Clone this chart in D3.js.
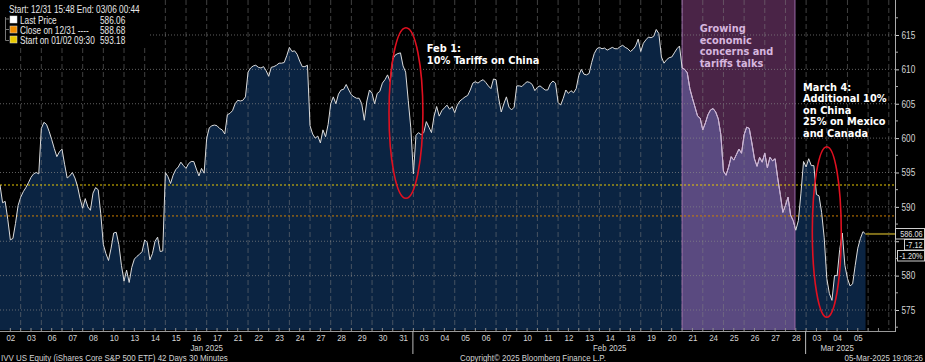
<!DOCTYPE html>
<html>
<head>
<meta charset="utf-8">
<script src="https://cdn.jsdelivr.net/npm/d3@7"></script>
<style>
    body { margin: 0; background: #000; }
    svg { display: block; font-family: "Liberation Sans", Arial, sans-serif; }
</style>
</head>
<body>
<div class="container"></div>
<script>
const WIDTH = 925;
const HEIGHT = 362;
const PLOT_RIGHT = 895;
const PLOT_BOTTOM = 330;
const SX = 0.81; // horizontal squeeze, stands in for a narrow terminal font
const FS = 9.8;

// trading days shown on the axis
const dayLabels = ['02', '03', '06', '07', '08', '10', '13', '14', '15', '16', '17', '21', '22', '23', '24', '27', '28', '29', '30', '31',
    '03', '04', '05', '06', '07', '10', '11', '12', '13', '14', '18', '19', '20', '21', '24', '25', '26', '27', '28',
    '03', '04', '05'];
const monthNames = ['Jan 2025', 'Feb 2025', 'Mar 2025'];
const monthStarts = [0, 20, 39];

// intraday prices, evenly spaced within each trading day
const prices = [
    [593.18, 590.6, 590.8, 588.2, 585.2, 585.4, 587.6, 590.2],
    [591.4, 592.2, 592.8, 593.5, 594.3, 594.8, 595.0, 594.8],
    [601.4, 602.3, 602.0, 601.0, 599.8, 598.5, 597.3, 598.0],
    [598.4, 596.2, 594.2, 594.5, 595.0, 594.2, 593.0, 591.2],
    [589.8, 591.2, 590.0, 589.5, 592.0, 592.8, 592.5, 589.0],
    [584.5, 583.2, 582.2, 584.0, 586.2, 586.3, 584.5, 581.5],
    [579.2, 580.8, 579.0, 581.2, 582.4, 582.8, 583.1, 583.5],
    [585.2, 584.8, 582.3, 583.2, 585.0, 585.6, 583.5, 583.6],
    [595.0, 594.4, 593.4, 594.6, 595.4, 595.8, 596.5, 596.0],
    [595.6, 596.3, 596.6, 596.6, 595.5, 594.5, 595.6, 594.9],
    [600.0, 601.5, 601.8, 601.9, 601.8, 601.4, 601.2, 600.6],
    [603.4, 603.6, 604.0, 605.0, 605.5, 605.4, 605.5, 606.0],
    [609.6, 610.2, 610.5, 610.6, 610.3, 610.2, 610.4, 609.8],
    [609.0, 610.3, 610.4, 610.6, 610.9, 610.9, 611.0, 612.0],
    [613.2, 612.6, 612.7, 612.2, 611.2, 610.4, 610.4, 610.6],
    [601.8, 600.6, 600.0, 600.3, 599.3, 601.2, 600.2, 602.0],
    [605.0, 606.0, 605.0, 606.4, 607.0, 607.1, 607.8, 607.0],
    [606.3, 606.0, 605.8, 605.8, 605.0, 602.6, 605.4, 607.0],
    [606.5, 605.0, 606.5, 606.8, 608.0, 608.5, 609.2, 608.2],
    [611.5, 612.1, 612.3, 612.4, 610.5, 609.6, 605.5, 601.5],
    [594.8, 600.4, 600.8, 600.5, 600.8, 602.4, 601.6, 600.8],
    [603.2, 604.6, 603.2, 604.0, 604.4, 604.8, 604.2, 604.6],
    [603.7, 604.8, 605.4, 605.7, 606.0, 606.2, 607.0, 608.0],
    [608.2, 608.0, 608.3, 608.5, 608.1, 607.6, 607.2, 608.6],
    [608.5, 605.8, 603.8, 605.0, 606.0, 604.5, 604.1, 604.5],
    [607.6, 607.6, 607.5, 607.9, 608.2, 608.1, 607.8, 606.9],
    [607.4, 607.6, 607.3, 607.0, 607.0, 607.9, 608.3, 608.0],
    [605.2, 604.8, 605.8, 607.0, 606.5, 606.9, 606.6, 607.2],
    [609.1, 610.0, 609.3, 609.2, 609.4, 611.0, 612.3, 613.0],
    [613.2, 613.0, 613.1, 612.8, 613.0, 613.2, 613.0, 613.0],
    [613.3, 613.5, 613.2, 613.0, 612.6, 612.9, 613.4, 614.4],
    [612.6, 613.8, 614.3, 614.7, 614.6, 614.8, 615.8, 615.2],
    [611.8, 610.9, 611.4, 611.7, 611.8, 612.4, 613.0, 613.4],
    [610.2, 610.0, 609.5, 607.2, 605.8, 604.5, 603.2, 602.9],
    [601.2, 602.2, 603.4, 604.1, 604.3, 603.8, 602.8, 600.5],
    [595.2, 594.6, 595.8, 597.3, 596.8, 597.6, 598.4, 597.8],
    [600.5, 601.6, 601.4, 599.3, 597.0, 595.9, 597.2, 596.5],
    [597.8, 595.7, 597.2, 596.7, 597.0, 594.2, 591.8, 589.2],
    [590.2, 591.4, 588.8, 588.0, 586.6, 588.0, 592.0, 596.6],
    [595.8, 597.0, 596.0, 596.0, 591.8, 591.6, 589.2, 585.5],
    [579.6, 577.4, 576.4, 580.0, 580.0, 583.8, 586.2, 581.5],
    [579.6, 578.5, 578.8, 581.5, 584.0, 585.4, 586.4, 586.06]
];

const yTicks = [575, 580, 585, 590, 595, 600, 605, 610, 615];
const lastPrice = 586.06;
const prevClose = 588.68;
const startPrice = 593.18;
const netChange = '-7.12';
const pctChange = '-1.20%';
const bandStart = 33;     // Feb 21 open
const bandEnd = 38.46;    // mid-session Feb 28

var svg = d3.select('.container').append('svg')
    .attr('width', WIDTH)
    .attr('height', HEIGHT);

var narrow = function (parent, x0, y0, s, anchor, size) {
    return parent.append('text')
        .attr('transform', 'translate(' + x0 + ',' + y0 + ') scale(' + SX + ',1)')
        .attr('text-anchor', anchor || 'start')
        .attr('font-size', size || FS)
        .attr('fill', '#d4d4d4')
        .text(s);
};

var points = [];
prices.forEach(function (vals, d) {
    vals.forEach(function (v, k) {
        points.push({ t: d + k / vals.length, v: v });
    });
});

var x = d3.scaleLinear().domain([0, dayLabels.length + 1.3]).range([0, PLOT_RIGHT]);
var y = d3.scaleLinear().domain([572.09, 620.09]).range([PLOT_BOTTOM, 0]);

var areaPath = d3.area().x(d => x(d.t)).y0(PLOT_BOTTOM).y1(d => y(d.v))(points);
var linePath = d3.line().x(d => x(d.t)).y(d => y(d.v))(points);

var defs = svg.append('defs');
defs.append('clipPath').attr('id', 'under').append('path').attr('d', areaPath);
defs.append('clipPath').attr('id', 'band').append('rect')
    .attr('x', x(bandStart)).attr('y', 0)
    .attr('width', x(bandEnd) - x(bandStart)).attr('height', PLOT_BOTTOM);

// shaded period, above the price
svg.append('rect')
    .attr('x', x(bandStart)).attr('y', 0)
    .attr('width', x(bandEnd) - x(bandStart)).attr('height', PLOT_BOTTOM)
    .attr('fill', '#4a2447');

// price area
svg.append('path')
    .attr('d', areaPath)
    .attr('fill', '#0b2442');

// shaded period, under the price
svg.append('rect')
    .attr('clip-path', 'url(#under)')
    .attr('x', x(bandStart)).attr('y', 0)
    .attr('width', x(bandEnd) - x(bandStart)).attr('height', PLOT_BOTTOM)
    .attr('fill', '#5a4a80');

// grid
svg.append('g').selectAll('line')
    .data(d3.range(1, dayLabels.length + 2))
    .join('line')
    .attr('x1', d => x(d)).attr('x2', d => x(d))
    .attr('y1', 0).attr('y2', PLOT_BOTTOM)
    .attr('stroke', '#808080').attr('stroke-opacity', 0.5)
    .attr('stroke-dasharray', '5,3');

svg.append('g').selectAll('line')
    .data(yTicks)
    .join('line')
    .attr('x1', 0).attr('x2', PLOT_RIGHT)
    .attr('y1', d => y(d)).attr('y2', d => y(d))
    .attr('stroke', '#888').attr('stroke-opacity', 0.7)
    .attr('stroke-dasharray', '1,2');

// band edges
svg.append('g').selectAll('line')
    .data([bandStart, bandEnd])
    .join('line')
    .attr('x1', d => x(d)).attr('x2', d => x(d))
    .attr('y1', 0).attr('y2', PLOT_BOTTOM)
    .attr('stroke', '#9a6aa8');

// reference levels
svg.append('line')
    .attr('x1', 0).attr('x2', PLOT_RIGHT)
    .attr('y1', y(startPrice)).attr('y2', y(startPrice))
    .attr('stroke', '#e8c800').attr('stroke-dasharray', '2,2');
svg.append('line')
    .attr('x1', 0).attr('x2', PLOT_RIGHT)
    .attr('y1', y(prevClose)).attr('y2', y(prevClose))
    .attr('stroke', '#d08000').attr('stroke-dasharray', '2,2');

// price line
svg.append('path')
    .attr('d', linePath)
    .attr('fill', 'none')
    .attr('stroke', '#dcdcdc')
    .attr('stroke-width', 1);
svg.append('path')
    .attr('d', linePath)
    .attr('clip-path', 'url(#band)')
    .attr('fill', 'none')
    .attr('stroke', '#cdb0d6')
    .attr('stroke-width', 1);

var last = points[points.length - 1];
svg.append('line')
    .attr('x1', x(last.t)).attr('x2', PLOT_RIGHT)
    .attr('y1', y(lastPrice)).attr('y2', y(lastPrice))
    .attr('stroke', '#7e6e1a').attr('stroke-width', 2);

// annotations
var note = svg.append('g')
    .attr('font-family', '"DejaVu Sans", Verdana, sans-serif')
    .attr('font-weight', 'bold')
    .attr('font-size', 9.8);

var addNote = function (t, v, lines, color) {
    var txt = note.append('text').attr('x', x(t)).attr('y', y(v)).attr('fill', color);
    lines.forEach(function (s, i) {
        txt.append('tspan').attr('x', x(t)).attr('dy', i ? 11.6 : 0).text(s);
    });
};
addNote(20.65, 612.5, ['Feb 1:', '10% Tariffs on China'], '#ffffff');
addNote(33.85, 615.4, ['Growing', 'economic', 'concerns and', 'tariffs talks'], '#d6b6de');
addNote(38.85, 606.9, ['March 4:', 'Additional 10%', 'on China', '25% on Mexico', 'and Canada'], '#ffffff');

svg.append('ellipse')
    .attr('cx', x(19.64)).attr('cy', y(603.65))
    .attr('rx', x(0.82)).attr('ry', y(603.65 - 12.4) - y(603.65))
    .attr('fill', 'none').attr('stroke', '#e01020').attr('stroke-width', 1.6);
svg.append('ellipse')
    .attr('cx', x(40)).attr('cy', y(586.35))
    .attr('rx', x(0.7)).attr('ry', y(586.35 - 12.4) - y(586.35))
    .attr('fill', 'none').attr('stroke', '#e01020').attr('stroke-width', 1.6);

// last price tag rows
var tags = [
    { text: lastPrice.toFixed(2), x0: 895, top: 228 },
    { text: netChange, x0: 904, top: 239 },
    { text: pctChange, x0: 897, top: 250 }
];

// right axis; the label hidden behind the price tag is left out
var yAxis = d3.axisRight(y).tickValues(yTicks).tickSize(4).tickPadding(2)
    .tickFormat(d => (y(d) > tags[0].top - 4 && y(d) < tags[2].top + 14) ? '' : d);
var yg = svg.append('g')
    .attr('transform', 'translate(' + PLOT_RIGHT + ',0)')
    .call(yAxis);
yg.select('.domain').remove();
yg.selectAll('text')
    .attr('x', 6.5 / SX)
    .attr('transform', 'scale(' + SX + ',1)')
    .attr('fill', '#d4d4d4').attr('font-size', 10.2).attr('font-family', null);
yg.selectAll('line').attr('stroke', '#ccc');
svg.append('g').selectAll('line')
    .data(yTicks.map(d => d + 2.5).concat([572.5]))
    .join('line')
    .attr('x1', PLOT_RIGHT).attr('x2', PLOT_RIGHT + 3)
    .attr('y1', d => y(d)).attr('y2', d => y(d))
    .attr('stroke', '#aaa');
svg.append('line')
    .attr('x1', PLOT_RIGHT + 0.5).attr('x2', PLOT_RIGHT + 0.5)
    .attr('y1', 0).attr('y2', PLOT_BOTTOM + 2)
    .attr('stroke', '#aaa');

var tg = svg.append('g');
tg.selectAll('rect').data(tags).join('rect')
    .attr('x', d => d.x0 + 0.5).attr('y', d => d.top + 0.5)
    .attr('width', d => 924 - d.x0).attr('height', 10.5)
    .attr('fill', '#000').attr('stroke', '#cfcfcf');
tags.forEach(function (d) {
    narrow(tg, 922.5, d.top + 8.8, d.text, 'end', 9).attr('fill', '#e4e4e4');
});

// bottom axis
var xAxis = d3.axisBottom(x)
    .tickValues(dayLabels.map((d, i) => i + 0.5))
    .tickFormat((d, i) => dayLabels[i])
    .tickSize(0).tickPadding(3);
var xg = svg.append('g')
    .attr('transform', 'translate(0,' + (PLOT_BOTTOM + 1) + ')')
    .call(xAxis);
xg.select('.domain').remove();
xg.selectAll('text')
    .attr('transform', 'scale(' + SX + ',1)')
    .attr('fill', '#d4d4d4').attr('font-size', FS).attr('font-family', null);
svg.append('line')
    .attr('x1', 0).attr('x2', PLOT_RIGHT)
    .attr('y1', PLOT_BOTTOM + 1.5).attr('y2', PLOT_BOTTOM + 1.5)
    .attr('stroke', '#999');
svg.append('g').selectAll('line')
    .data(d3.range(0.5, dayLabels.length + 1, 0.5))
    .join('line')
    .attr('x1', d => x(d)).attr('x2', d => x(d))
    .attr('y1', PLOT_BOTTOM - 2).attr('y2', PLOT_BOTTOM + 1)
    .attr('stroke', '#8a8a8a');
svg.append('g').selectAll('line')
    .data(monthStarts.slice(1))
    .join('line')
    .attr('x1', d => x(d) - 0.5).attr('x2', d => x(d) - 0.5)
    .attr('y1', PLOT_BOTTOM + 1).attr('y2', PLOT_BOTTOM + 24)
    .attr('stroke', '#bbb');
monthNames.forEach(function (m, i) {
    var end = i + 1 < monthStarts.length ? monthStarts[i + 1] : dayLabels.length;
    narrow(svg, x((monthStarts[i] + end) / 2), PLOT_BOTTOM + 21, m, 'middle');
});

// footer
narrow(svg, 1, 360.5, 'IVV US Equity (iShares Core S&P 500 ETF) 42 Days 30 Minutes');
narrow(svg, 460, 360.5, 'Copyright© 2025 Bloomberg Finance L.P.');
narrow(svg, 923, 360.5, '05-Mar-2025 19:08:26', 'end');

// legend
var legend = svg.append('g');
legend.append('rect').attr('x', 0).attr('y', 0).attr('width', 148).attr('height', 47).attr('fill', '#000');
narrow(legend, 9, 13, 'Start: 12/31 15:48 End: 03/06 00:44', 'start', 10.2).attr('fill', '#e8e8e8');
var legendRows = [
    { label: 'Last Price', value: lastPrice.toFixed(2), color: '#ffffff' },
    { label: 'Close on 12/31 ----', value: prevClose.toFixed(2), color: '#f08c00' },
    { label: 'Start on 01/02 09:30', value: startPrice.toFixed(2), color: '#e8c800' }
];
legend.append('path')
    .attr('d', 'M5.5,17V40.5H9M5.5,29.5H9M5.5,19H9')
    .attr('fill', 'none').attr('stroke', '#777');
legendRows.forEach(function (r, i) {
    var cy = 19.5 + i * 10;
    legend.append('rect').attr('x', 10).attr('y', cy - 3.5).attr('width', 7).attr('height', 7)
        .attr('fill', r.color).attr('stroke', '#ddd').attr('stroke-width', 0.5);
    narrow(legend, 20, cy + 4, r.label, 'start', 10.2).attr('fill', '#e8e8e8');
    narrow(legend, 100, cy + 4, r.value, 'start', 10.2).attr('fill', '#e8e8e8');
});
</script>
</body>
</html>
